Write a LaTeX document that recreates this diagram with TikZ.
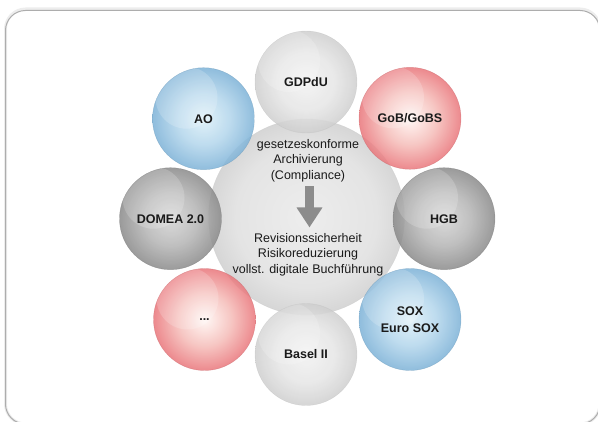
\documentclass[tikz,border=0pt]{standalone}
\usepackage{fontspec}
\setmainfont{Liberation Sans}
\usetikzlibrary{arrows.meta}
\definecolor{bC}{HTML}{DCEFF8}
\definecolor{bM}{HTML}{B2D5EB}
\definecolor{bE}{HTML}{7DB2D7}
\definecolor{rC}{HTML}{FFF6F3}
\definecolor{rM}{HTML}{F5BDB9}
\definecolor{rE}{HTML}{E9767B}
\definecolor{dC}{HTML}{D4D4D4}
\definecolor{dM}{HTML}{B5B5B5}
\definecolor{dE}{HTML}{8A8A8A}
\definecolor{lC}{HTML}{F1F1F1}
\definecolor{lM}{HTML}{E5E5E5}
\definecolor{lE}{HTML}{CFCFCF}
\definecolor{cC}{HTML}{EDEDED}
\definecolor{cM}{HTML}{E4E4E4}
\definecolor{cE}{HTML}{D6D6D6}
\definecolor{txt}{HTML}{1A1A1A}
\pgfdeclareradialshading{blueball}{\pgfpoint{0bp}{0bp}}{color(0bp)=(bC); color(13bp)=(bM); color(25bp)=(bE); color(50bp)=(bE)}
\pgfdeclareradialshading{redball}{\pgfpoint{0bp}{0bp}}{color(0bp)=(rC); color(13bp)=(rM); color(25bp)=(rE); color(50bp)=(rE)}
\pgfdeclareradialshading{darkball}{\pgfpoint{0bp}{0bp}}{color(0bp)=(dC); color(13bp)=(dM); color(25bp)=(dE); color(50bp)=(dE)}
\pgfdeclareradialshading{lightball}{\pgfpoint{0bp}{0bp}}{color(0bp)=(lC); color(14bp)=(lM); color(25bp)=(lE); color(50bp)=(lE)}
\pgfdeclareradialshading{centerball}{\pgfpoint{0bp}{0bp}}{color(0bp)=(cC); color(18bp)=(cM); color(25bp)=(cE); color(50bp)=(cE)}
\tikzset{
  ball/.style={circle, minimum size=102pt, inner sep=0pt, shade, fill opacity=.86,
    text opacity=1, text=txt, align=center,
    font=\fontsize{12.5}{17}\selectfont\bfseries,
    path picture={\fill[white, fill opacity=.18]
      ([shift={(-17,-21)}]path picture bounding box.center) circle (31);}},
  blueb/.style={ball, shading=blueball, draw=bE!85!black, draw opacity=.5},
  redb/.style={ball, shading=redball, draw=rE!85!black, draw opacity=.5},
  darkb/.style={ball, shading=darkball, draw=dE!85!black, draw opacity=.5},
  lightb/.style={ball, shading=lightball, draw=lE!90!black, draw opacity=.4},
  centertext/.style={align=center, text=txt, inner sep=0pt,
    font=\fontsize{12.5}{15.5}\selectfont},
}
\begin{document}
\begin{tikzpicture}[x=1pt, y=-1pt]
\useasboundingbox (0,0) rectangle (598,422);
% frame
\draw[rounded corners=20pt, draw=black!7, line width=3pt] (5.5,9) rectangle (600,424);
\draw[rounded corners=20pt, draw=black!32, line width=1pt] (5.5,10.5) rectangle (600,424);
% central circle
\node[circle, minimum size=196pt, inner sep=0pt, shade, shading=centerball,
  draw=cE!90!black, draw opacity=.35] (core) at (306.5,217) {};
% outer circles
\node[lightb] (gdpdu) at (306,82) {GDPdU};
\node[blueb]  (ao)    at (203.5,118.7) {AO};
\node[redb]   (gob)   at (410,118.3) {GoB/GoBS};
\node[darkb]  (domea) at (170.5,218.7) {DOMEA 2.0};
\node[darkb]  (hgb)   at (444,218.7) {HGB};
\node[redb]   (etc)   at (204.5,319.5) {...};
\node[blueb]  (sox)   at (410,319.5) {SOX\\Euro SOX};
\node[lightb] (basel) at (306,354.5) {Basel II};
% central texts
\node[centertext] (goal) at (308,160.5) {gesetzeskonforme\\Archivierung\\(Compliance)};
\node[centertext] (gain) at (308,254.7) {Revisionssicherheit\\Risikoreduzierung\\vollst. digitale Buchführung};
\coordinate (arrtop) at (309.5,186.5);
\coordinate (arrtip) at (309.5,227.5);
\draw[draw=black!45, line width=8.5pt, -{Triangle[width=24.5pt, length=20pt]}] (arrtop) -- (arrtip);
\end{tikzpicture}
\end{document}
